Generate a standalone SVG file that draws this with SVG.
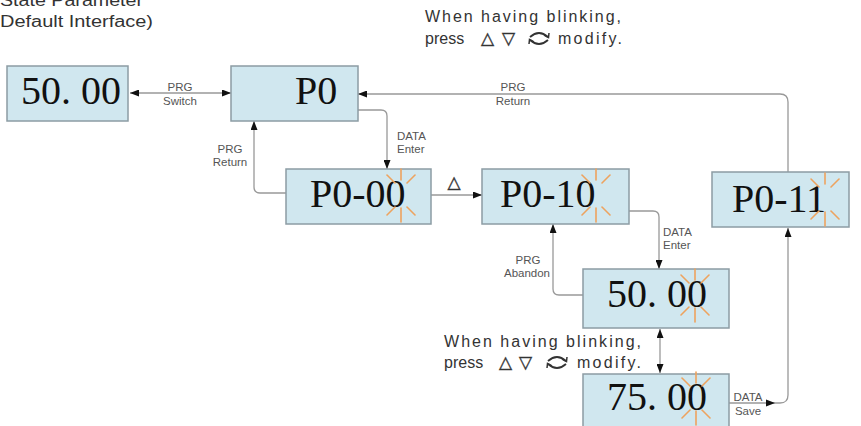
<svg xmlns="http://www.w3.org/2000/svg" xmlns:xlink="http://www.w3.org/1999/xlink" width="861" height="426" viewBox="0 0 861 426">
<style>
.box{fill:#d0e7ef;stroke:#8c9ca4;stroke-width:1.5}
.big{font-family:"Liberation Serif","Times New Roman",serif;font-size:40px;fill:#111}
.lbl{font-family:"Liberation Sans",Arial,sans-serif;font-size:11.5px;fill:#555}
.note{font-family:"Liberation Sans",Arial,sans-serif;font-size:16px;fill:#333}
.sym{font-family:"DejaVu Sans",sans-serif;font-size:17px;fill:#333;stroke:#333;stroke-width:0.4}
.con{fill:none;stroke:#999;stroke-width:1.3}
.ray{stroke:#eea35e;stroke-width:1.6;stroke-linecap:round}
</style>
<defs>
<marker id="ah" markerUnits="userSpaceOnUse" markerWidth="9" markerHeight="7" refX="9" refY="3.5" orient="auto-start-reverse">
<path d="M0,0 L9,3.5 L0,7 z" fill="#111"/>
</marker>
<g id="blink">
<line class="ray" x1="0" y1="-26" x2="0" y2="-15"/>
<line class="ray" x1="0" y1="13" x2="0" y2="27"/>
<line class="ray" x1="-14" y1="-20" x2="-6" y2="-12"/>
<line class="ray" x1="6" y1="-12" x2="14" y2="-20"/>
<line class="ray" x1="-14" y1="20" x2="-6" y2="12"/>
<line class="ray" x1="6" y1="12" x2="14" y2="20"/>
</g>
<g id="loop" fill="none" stroke="#333" stroke-width="1.8">
<path d="M-9,-1 Q0,-9 9,-1"/>
<path d="M9,2 Q0,10 -9,2"/>
<path d="M5,-3 L9.5,-0.5 L10,-5" stroke-width="1.5"/>
<path d="M-5,4 L-9.5,1.5 L-10,6" stroke-width="1.5"/>
</g>
</defs>

<g id="title">
<text class="note" x="0" y="6" font-size="19" textLength="143" lengthAdjust="spacingAndGlyphs">State Parameter</text>
<text class="note" x="0" y="27" font-size="19" textLength="153" lengthAdjust="spacingAndGlyphs">Default Interface)</text>
</g>

<g id="note-top">
<text class="note" x="425" y="22" textLength="196" lengthAdjust="spacing">When having blinking,</text>
<text class="note" x="425" y="44">press</text>
<text class="sym" x="481" y="44">△</text>
<text class="sym" x="502" y="44">▽</text>
<use xlink:href="#loop" href="#loop" transform="translate(539,38)"/>
<text class="note" x="558" y="44" textLength="64" lengthAdjust="spacing">modify.</text>
</g>

<g id="note-mid">
<text class="note" x="444" y="347" textLength="197" lengthAdjust="spacing">When having blinking,</text>
<text class="note" x="444" y="368">press</text>
<text class="sym" x="499" y="368">△</text>
<text class="sym" x="519" y="368">▽</text>
<use xlink:href="#loop" href="#loop" transform="translate(557,362)"/>
<text class="note" x="577" y="368" textLength="64" lengthAdjust="spacing">modify.</text>
</g>

<g id="connectors">
<line class="con" x1="130" y1="93" x2="231" y2="93" marker-start="url(#ah)" marker-end="url(#ah)"/>
<path class="con" d="M358,110 H381 Q387,110 387,116 V169" marker-end="url(#ah)"/>
<path class="con" d="M286,193 H260 Q254,193 254,187 V121" marker-end="url(#ah)"/>
<line class="con" x1="431" y1="195" x2="482" y2="195" marker-end="url(#ah)"/>
<path class="con" d="M629,211 H653 Q659,211 659,217 V269" marker-end="url(#ah)"/>
<path class="con" d="M583,295 H559 Q553,295 553,289 V224" marker-end="url(#ah)"/>
<line class="con" x1="660" y1="329" x2="660" y2="373" marker-start="url(#ah)" marker-end="url(#ah)"/>
<path class="con" d="M728,403 H780 Q788,403 788,395 V228" marker-end="url(#ah)"/>
<path d="M766,399.5 L775,403 L766,406.5 z" fill="#111"/>
<path class="con" d="M788,172 V102 Q788,94 780,94 H358" marker-end="url(#ah)"/>
<text class="lbl" x="180" y="91" text-anchor="middle">PRG</text>
<text class="lbl" x="180" y="105" text-anchor="middle">Switch</text>
<text class="lbl" x="397" y="140">DATA</text>
<text class="lbl" x="397" y="153">Enter</text>
<text class="lbl" x="230" y="153" text-anchor="middle">PRG</text>
<text class="lbl" x="230" y="166" text-anchor="middle">Return</text>
<text class="sym" x="454" y="188" text-anchor="middle">△</text>
<text class="lbl" x="663" y="236">DATA</text>
<text class="lbl" x="663" y="249">Enter</text>
<text class="lbl" x="528" y="264" text-anchor="middle">PRG</text>
<text class="lbl" x="527" y="277" text-anchor="middle">Abandon</text>
<text class="lbl" x="748" y="401" text-anchor="middle">DATA</text>
<text class="lbl" x="748" y="415" text-anchor="middle">Save</text>
<text class="lbl" x="513" y="91" text-anchor="middle">PRG</text>
<text class="lbl" x="513" y="105" text-anchor="middle">Return</text>
</g>

<g id="n-status">
<rect class="box" x="7" y="66" width="121" height="55"/>
<text class="big" x="21" y="104">50. 00</text>
</g>
<g id="n-p0">
<rect class="box" x="231" y="66" width="127" height="55"/>
<text class="big" x="295" y="104">P0</text>
</g>
<g id="n-p0-00">
<rect class="box" x="286" y="169" width="145" height="55"/>
<text class="big" x="310" y="207">P0-00</text>
<use xlink:href="#blink" href="#blink" transform="translate(401,195)"/>
</g>
<g id="n-p0-10">
<rect class="box" x="482" y="169" width="147" height="55"/>
<text class="big" x="500" y="207">P0-10</text>
<use xlink:href="#blink" href="#blink" transform="translate(596,195)"/>
</g>
<g id="n-p0-11">
<rect class="box" x="712" y="172" width="137" height="55"/>
<text class="big" x="732" y="212">P0-11</text>
<use xlink:href="#blink" href="#blink" transform="translate(825,199)"/>
</g>
<g id="n-value">
<rect class="box" x="583" y="269" width="146" height="59"/>
<text class="big" x="607" y="307">50. 00</text>
<use xlink:href="#blink" href="#blink" transform="translate(695,295)"/>
</g>
<g id="n-new-value">
<rect class="box" x="583" y="374" width="146" height="60"/>
<text class="big" x="607" y="410">75. 00</text>
<use xlink:href="#blink" href="#blink" transform="translate(696,398)"/>
</g>
</svg>
